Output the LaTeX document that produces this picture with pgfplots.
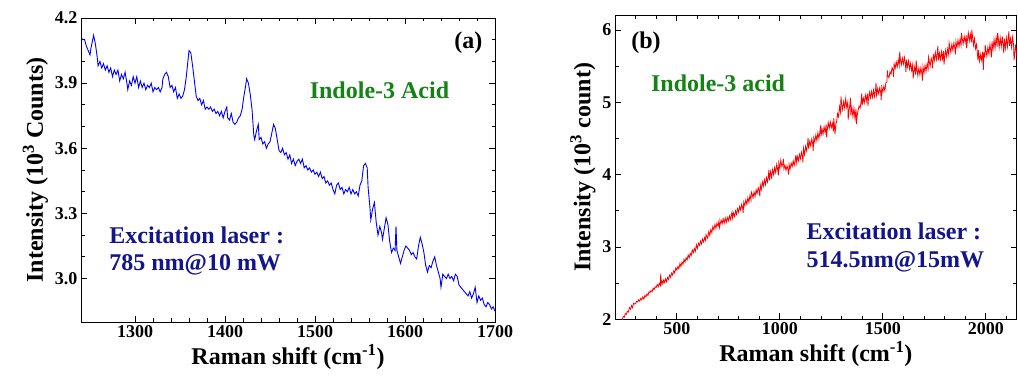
\documentclass[border=0pt]{standalone}
\usepackage{fontspec}
\setmainfont{Liberation Serif}
\usepackage{pgfplots}
\pgfplotsset{compat=1.18}
\definecolor{igreen}{RGB}{20,130,20}
\definecolor{inavy}{RGB}{20,20,140}
\begin{document}
\begin{tikzpicture}
\useasboundingbox (0pt,0pt) rectangle (1018pt,385pt);
\pgfplotsset{
  every axis/.append style={
    scale only axis,
    axis line style={line width=0.9pt},
    tick align=inside,
    xtick pos=both, ytick pos=both,
    major tick length=6pt, minor tick length=3.5pt,
    every tick/.style={black, line width=0.8pt},
    /pgf/number format/assume math mode=true,
    tick label style={font=\fontsize{18}{18}\selectfont\bfseries},
    label style={font=\fontsize{24}{24}\selectfont\bfseries},
  }
}
% ---------------- (a) ----------------
\begin{axis}[
  at={(81pt,63pt)}, anchor=south west,
  width=414pt, height=304pt,
  xmin=1240, xmax=1700, ymin=2.8, ymax=4.2,
  xtick={1300,1400,1500,1600,1700},
  minor x tick num=4,
  ytick={3.0,3.3,3.6,3.9,4.2},
  minor y tick num=2,
  yticklabel style={/pgf/number format/.cd, fixed, fixed zerofill, precision=1},
  xticklabel style={/pgf/number format/.cd, set thousands separator={}},
  xlabel={Raman shift (cm\textsuperscript{-1})},
  ylabel={Intensity (10\textsuperscript{3} Counts)},
]
\addplot[blue, line width=0.9pt] coordinates {
(1240,4.11)(1242,4.10)(1244,4.10)(1246,4.07)(1248,4.05)(1250,4.03)(1251,4.06)(1253,4.10)(1254,4.12)(1256,4.08)
(1258,4.02)(1259,3.98)(1261,4.00)(1263,3.97)(1265,3.99)(1267,3.96)(1269,3.98)(1271,3.95)(1273,3.97)(1275,3.93)
(1277,3.96)(1279,3.94)(1281,3.96)(1283,3.91)(1285,3.94)(1287,3.92)(1289,3.95)(1291,3.90)(1292,3.87)(1294,3.91)
(1296,3.89)(1298,3.93)(1300,3.90)(1302,3.93)(1304,3.88)(1306,3.91)(1308,3.88)(1310,3.90)(1312,3.87)(1314,3.89)
(1316,3.88)(1318,3.90)(1320,3.86)(1322,3.88)(1324,3.87)(1326,3.88)(1328,3.86)(1330,3.88)(1331,3.92)(1333,3.94)
(1335,3.95)(1337,3.93)(1339,3.88)(1341,3.89)(1343,3.86)(1345,3.88)(1347,3.83)(1349,3.85)(1351,3.83)(1353,3.84)
(1355,3.87)(1357,3.93)(1359,4.01)(1360,4.05)(1362,4.04)(1364,3.98)(1366,3.91)(1368,3.84)(1370,3.82)(1372,3.83)
(1374,3.80)(1376,3.82)(1378,3.78)(1380,3.79)(1382,3.78)(1384,3.79)(1386,3.77)(1388,3.78)(1390,3.76)(1392,3.77)
(1394,3.75)(1396,3.77)(1398,3.74)(1400,3.77)(1402,3.79)(1403,3.74)(1405,3.73)(1407,3.76)(1409,3.72)(1411,3.71)
(1413,3.72)(1415,3.74)(1417,3.75)(1419,3.78)(1421,3.84)(1423,3.89)(1424,3.92)(1426,3.90)(1428,3.85)(1430,3.78)
(1432,3.66)(1433,3.64)(1435,3.68)(1437,3.71)(1438,3.64)(1440,3.65)(1442,3.62)(1444,3.63)(1446,3.60)(1448,3.62)
(1450,3.63)(1452,3.67)(1454,3.71)(1456,3.69)(1458,3.64)(1460,3.59)(1462,3.58)(1464,3.60)(1466,3.57)(1468,3.58)
(1470,3.55)(1472,3.57)(1474,3.53)(1476,3.55)(1478,3.52)(1480,3.54)(1482,3.55)(1484,3.53)(1486,3.55)(1488,3.51)
(1490,3.52)(1492,3.50)(1494,3.51)(1496,3.49)(1498,3.50)(1500,3.48)(1502,3.49)(1504,3.47)(1506,3.49)(1508,3.46)
(1510,3.47)(1512,3.44)(1514,3.45)(1516,3.43)(1518,3.44)(1520,3.41)(1522,3.39)(1524,3.43)(1526,3.44)(1528,3.41)
(1530,3.42)(1532,3.39)(1534,3.41)(1536,3.40)(1538,3.42)(1540,3.39)(1542,3.41)(1544,3.39)(1546,3.40)(1548,3.38)
(1550,3.43)(1552,3.45)(1554,3.52)(1556,3.53)(1558,3.51)(1559,3.42)(1561,3.33)(1562,3.27)(1564,3.32)(1566,3.35)
(1568,3.26)(1570,3.20)(1572,3.24)(1574,3.21)(1575,3.18)(1577,3.23)(1579,3.28)(1581,3.25)(1583,3.17)(1585,3.12)
(1587,3.14)(1589,3.13)(1590,3.24)(1591,3.13)(1593,3.10)(1595,3.07)(1597,3.10)(1599,3.13)(1601,3.15)(1603,3.14)
(1605,3.13)(1607,3.11)(1609,3.12)(1611,3.10)(1613,3.09)(1615,3.15)(1617,3.19)(1619,3.16)(1621,3.12)(1623,3.06)
(1625,3.03)(1627,3.06)(1629,3.05)(1631,3.08)(1633,3.10)(1635,3.06)(1637,3.03)(1639,3.00)(1640,2.96)(1642,3.02)
(1644,3.01)(1646,3.00)(1648,3.02)(1650,3.00)(1652,3.01)(1654,2.99)(1656,3.02)(1658,3.01)(1660,2.97)(1662,2.96)
(1664,2.95)(1666,2.94)(1668,2.93)(1670,2.92)(1672,2.94)(1674,2.91)(1676,2.93)(1678,2.96)(1680,2.89)(1682,2.92)
(1684,2.90)(1686,2.91)(1688,2.88)(1690,2.87)(1692,2.89)(1694,2.88)(1696,2.86)(1698,2.87)(1700,2.85)
};
\node[anchor=east, font=\fontsize{24}{24}\selectfont\bfseries] at (rel axis cs:0.978,0.918) {(a)};
\node[anchor=center, text=igreen, font=\fontsize{24}{24}\selectfont\bfseries] at (rel axis cs:0.721,0.763) {Indole-3 Acid};
\node[anchor=west, text=inavy, font=\fontsize{24}{24}\selectfont\bfseries] at (rel axis cs:0.060,0.286) {Excitation laser :};
\node[anchor=west, text=inavy, font=\fontsize{24}{24}\selectfont\bfseries] at (rel axis cs:0.060,0.1875) {785 nm@10 mW};
\end{axis}
% ---------------- (b) ----------------
\begin{axis}[
  at={(615pt,65.7pt)}, anchor=south west,
  width=401.7pt, height=303.8pt,
  xmin=200, xmax=2150, ymin=2, ymax=6.2,
  xtick={500,1000,1500,2000},
  minor xtick={300,400,600,700,800,900,1100,1200,1300,1400,1600,1700,1800,1900,2100},
  ytick={2,3,4,5,6},
  minor ytick={2.5,3.5,4.5,5.5},
  xticklabel style={/pgf/number format/.cd, set thousands separator={}},
  xlabel={Raman shift (cm\textsuperscript{-1})},
  ylabel={Intensity (10\textsuperscript{3} count)},
]
\addplot[red, line width=0.8pt] coordinates {
(235,1.99)(240,2.04)(245,2.03)(250,2.08)(255,2.07)(260,2.11)(265,2.10)(270,2.16)(275,2.14)(280,2.19)
(285,2.16)(290,2.22)(295,2.21)(300,2.22)(305,2.25)(310,2.24)(315,2.27)(320,2.25)(325,2.29)(330,2.27)
(335,2.31)(340,2.28)(345,2.33)(350,2.31)(355,2.35)(360,2.33)(365,2.38)(370,2.37)(375,2.40)(380,2.38)
(385,2.43)(390,2.41)(395,2.45)(400,2.44)(405,2.48)(410,2.45)(415,2.50)(420,2.47)(422,2.63)(424,2.49)
(428,2.53)(432,2.49)(436,2.54)(440,2.51)(445,2.56)(450,2.52)(455,2.58)(460,2.55)(465,2.61)(470,2.58)
(475,2.64)(480,2.61)(485,2.67)(490,2.64)(495,2.71)(500,2.68)(505,2.73)(510,2.70)(515,2.77)(520,2.73)
(525,2.79)(530,2.76)(535,2.83)(540,2.79)(545,2.85)(550,2.82)(555,2.89)(560,2.85)(565,2.91)(570,2.88)
(575,2.96)(580,2.92)(585,2.98)(590,2.94)(595,3.03)(600,2.98)(605,3.05)(610,3.02)(615,3.08)(620,3.04)
(625,3.11)(630,3.07)(635,3.13)(640,3.09)(642,3.17)(645,3.15)(650,3.12)(655,3.21)(660,3.16)(665,3.24)(670,3.20)
(675,3.28)(680,3.24)(685,3.31)(690,3.26)(695,3.33)(700,3.29)(705,3.36)(707,3.27)(710,3.31)(715,3.37)(720,3.32)
(725,3.39)(730,3.33)(735,3.40)(740,3.34)(745,3.41)(750,3.36)(755,3.43)(760,3.38)(765,3.45)(768,3.48)(770,3.40)
(775,3.47)(780,3.42)(785,3.50)(790,3.45)(795,3.53)(800,3.48)(805,3.56)(810,3.51)(815,3.59)(820,3.53)(822,3.47)
(825,3.62)(830,3.57)(835,3.65)(840,3.59)(845,3.68)(850,3.62)(855,3.71)(860,3.65)(862,3.76)(865,3.74)(870,3.68)
(875,3.76)(880,3.70)(885,3.79)(890,3.74)(895,3.82)(900,3.77)(903,3.70)(905,3.86)(910,3.79)(915,3.90)(920,3.84)
(925,3.93)(930,3.86)(935,3.96)(940,3.90)(945,3.99)(947,4.07)(950,3.92)(955,4.04)(960,3.96)(965,4.07)(970,4.00)
(975,4.10)(980,4.03)(985,4.14)(990,4.06)(993,3.99)(995,4.16)(1000,4.09)(1005,4.20)(1010,4.11)(1015,4.15)(1017,4.22)(1020,4.08)
(1025,4.13)(1030,4.06)(1035,4.12)(1040,4.07)(1043,4.00)(1045,4.14)(1050,4.08)(1055,4.16)(1060,4.11)(1065,4.19)(1070,4.13)
(1075,4.21)(1078,4.27)(1080,4.16)(1085,4.25)(1090,4.19)(1095,4.28)(1100,4.22)(1105,4.31)(1110,4.25)(1112,4.17)(1115,4.36)(1120,4.28)
(1125,4.39)(1130,4.33)(1135,4.43)(1137,4.51)(1140,4.36)(1145,4.46)(1150,4.40)(1155,4.49)(1160,4.42)(1162,4.33)(1165,4.51)(1170,4.45)
(1175,4.55)(1180,4.47)(1185,4.58)(1190,4.50)(1195,4.60)(1198,4.68)(1200,4.53)(1205,4.63)(1210,4.56)(1215,4.66)(1220,4.58)
(1225,4.69)(1227,4.52)(1230,4.61)(1235,4.72)(1240,4.64)(1245,4.73)(1250,4.65)(1255,4.71)(1260,4.60)(1262,4.78)(1265,4.68)(1268,4.56)
(1272,4.70)(1276,4.74)(1280,4.84)(1285,4.80)(1290,4.94)(1295,4.86)(1297,5.08)(1300,4.98)(1305,4.90)(1310,5.01)(1315,4.92)
(1320,5.05)(1325,4.93)(1330,5.00)(1332,4.76)(1335,4.87)(1340,4.96)(1343,5.06)(1345,4.82)(1350,4.93)(1355,4.80)(1360,4.92)(1365,4.78)
(1370,4.91)(1372,4.70)(1375,4.80)(1380,4.89)(1385,4.95)(1390,4.92)(1395,5.02)(1397,5.12)(1400,4.96)(1405,5.06)(1410,4.99)(1415,5.10)
(1420,5.02)(1425,5.12)(1428,4.95)(1430,5.04)(1435,5.14)(1440,5.06)(1445,5.15)(1450,5.07)(1455,5.17)(1460,5.08)(1465,5.18)(1467,5.27)
(1470,5.10)(1475,5.19)(1480,5.12)(1485,5.20)(1490,5.13)(1492,5.03)(1495,5.21)(1500,5.14)(1505,5.22)(1510,5.16)(1515,5.27)
(1520,5.28)(1522,5.44)(1525,5.36)(1530,5.34)(1535,5.42)(1540,5.39)(1545,5.48)(1550,5.44)(1552,5.35)(1555,5.53)(1560,5.47)(1565,5.56)
(1570,5.49)(1575,5.59)(1580,5.51)(1582,5.70)(1585,5.60)(1590,5.52)(1595,5.61)(1600,5.53)(1605,5.62)(1610,5.52)(1612,5.42)(1615,5.59)
(1620,5.49)(1625,5.57)(1630,5.46)(1635,5.54)(1640,5.44)(1645,5.52)(1647,5.33)(1650,5.40)(1655,5.49)(1660,5.38)(1662,5.58)(1665,5.48)
(1670,5.37)(1675,5.47)(1680,5.38)(1685,5.48)(1690,5.39)(1692,5.30)(1695,5.49)(1700,5.41)(1705,5.51)(1710,5.43)(1715,5.53)
(1720,5.46)(1722,5.62)(1725,5.57)(1730,5.50)(1735,5.61)(1740,5.55)(1742,5.47)(1745,5.67)(1750,5.58)(1755,5.69)(1760,5.59)(1765,5.69)(1767,5.78)
(1770,5.58)(1775,5.68)(1780,5.59)(1785,5.70)(1790,5.60)(1795,5.71)(1797,5.52)(1800,5.61)(1805,5.72)(1810,5.63)(1815,5.74)
(1820,5.66)(1822,5.82)(1825,5.77)(1830,5.69)(1835,5.80)(1840,5.72)(1845,5.82)(1850,5.74)(1852,5.66)(1855,5.84)(1860,5.76)(1865,5.86)
(1870,5.77)(1875,5.87)(1880,5.79)(1882,5.96)(1885,5.89)(1890,5.81)(1895,5.91)(1900,5.83)(1905,5.93)(1907,5.75)(1910,5.84)(1915,5.96)
(1920,5.85)(1925,5.94)(1930,5.83)(1932,6.00)(1935,5.92)(1940,5.79)(1945,5.88)(1950,5.74)(1955,5.80)(1960,5.65)(1962,5.58)(1965,5.72)
(1970,5.57)(1975,5.66)(1980,5.58)(1985,5.70)(1988,5.45)(1991,5.69)(1995,5.62)(1997,5.79)(2000,5.73)(2005,5.64)(2010,5.76)
(2015,5.67)(2020,5.80)(2025,5.70)(2027,5.62)(2030,5.84)(2035,5.73)(2040,5.87)(2045,5.75)(2050,5.89)(2055,5.77)(2057,5.96)(2060,5.90)
(2065,5.76)(2070,5.89)(2075,5.77)(2080,5.91)(2085,5.76)(2087,5.68)(2090,5.88)(2095,5.75)(2100,5.89)(2105,5.77)(2110,5.92)(2112,5.98)
(2115,5.78)(2120,5.88)(2125,5.76)(2130,5.90)(2135,5.79)(2137,5.58)(2140,5.66)(2145,5.80)(2150,5.64)
};
\node[anchor=west, font=\fontsize{24}{24}\selectfont\bfseries] at (rel axis cs:0.032,0.909) {(b)};
\node[anchor=west, text=igreen, font=\fontsize{24}{24}\selectfont\bfseries] at (rel axis cs:0.081,0.778) {Indole-3 acid};
\node[anchor=west, text=inavy, font=\fontsize{24}{24}\selectfont\bfseries] at (rel axis cs:0.468,0.288) {Excitation laser :};
\node[anchor=west, text=inavy, font=\fontsize{24}{24}\selectfont\bfseries] at (rel axis cs:0.468,0.190) {514.5nm@15mW};
\end{axis}
\end{tikzpicture}
\end{document}
